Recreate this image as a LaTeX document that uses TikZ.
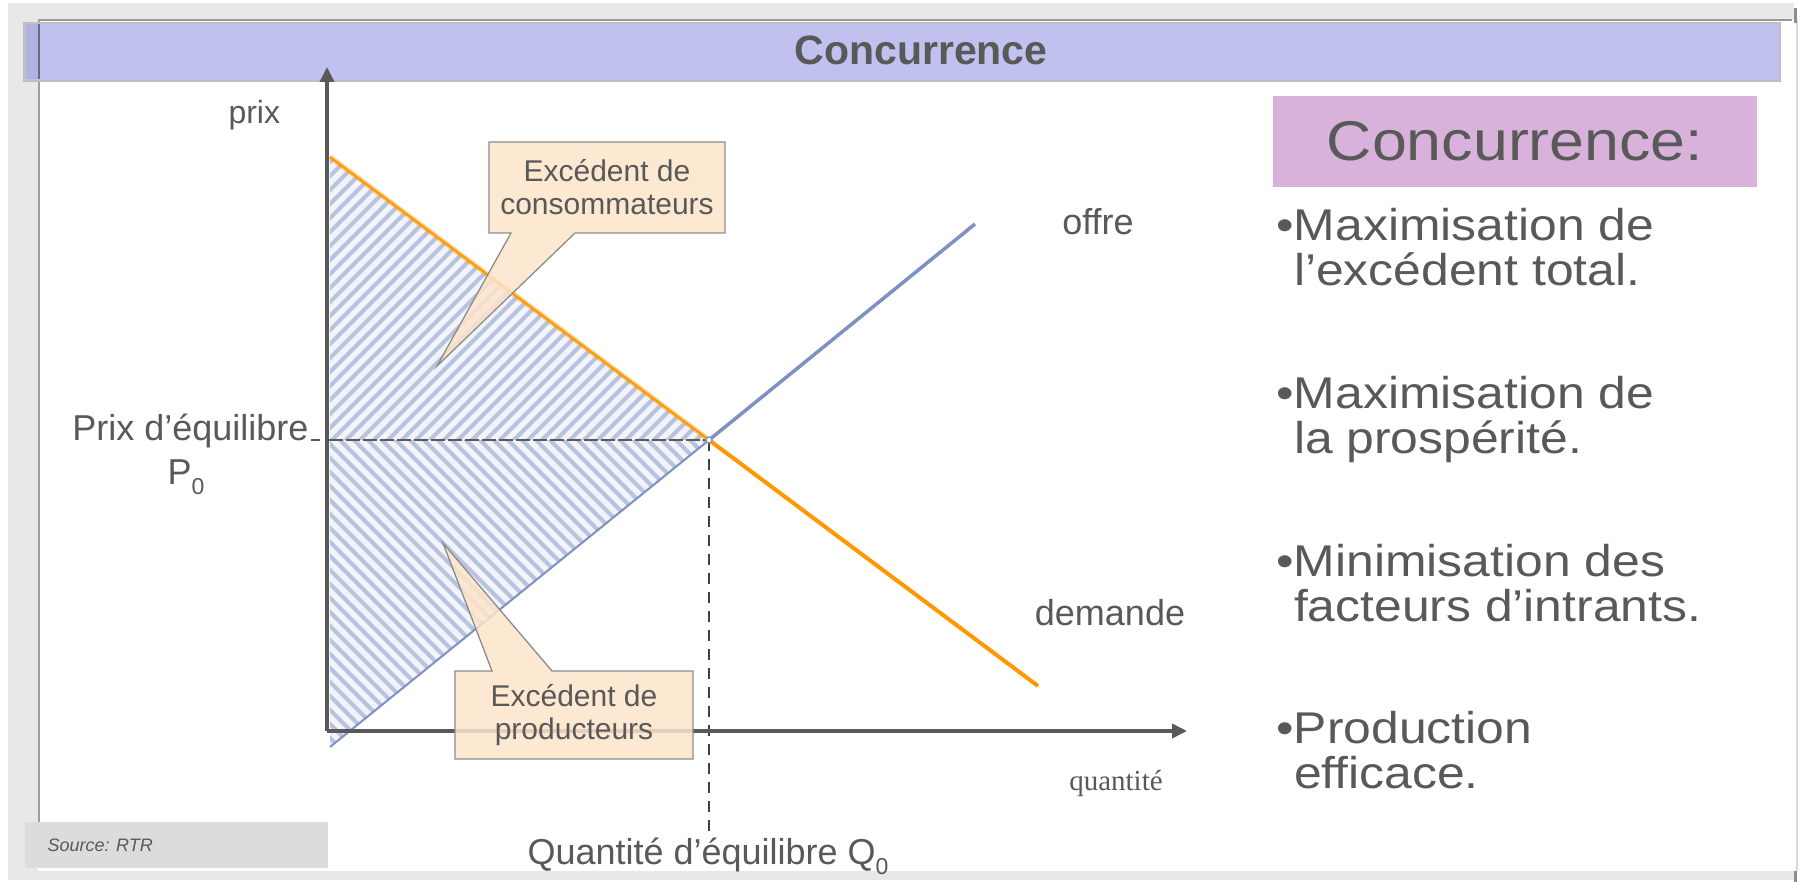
\documentclass[tikz,border=0pt]{standalone}
\usepackage{fontspec}
\setmainfont{Liberation Sans}
\newfontfamily\timesf{Liberation Serif}
\newfontfamily\widesans[FakeStretch=1.12]{Liberation Sans}
\usetikzlibrary{arrows.meta}
\definecolor{txt}{HTML}{595959}
\definecolor{frameg}{HTML}{E8E8E8}
\definecolor{titlebg}{HTML}{C1C1EF}
\definecolor{titleleft}{HTML}{B2B2E0}
\definecolor{pinkbg}{HTML}{D9B2DB}
\definecolor{peach}{HTML}{FDE4CB}
\definecolor{supplyc}{HTML}{7F90C4}
\definecolor{demandc}{HTML}{FF9900}
\definecolor{hatchbg}{HTML}{F2F4F9}
\definecolor{hatchln}{HTML}{B8C3DF}
\definecolor{srcbg}{HTML}{DCDCDC}
\newcommand{\fsz}[2]{\fontsize{#1pt}{#2pt}\selectfont}
\tikzset{
  axisline/.style={draw=txt, line width=3.5pt, -{Triangle[length=15pt,width=14pt]}},
  callout/.style={fill=peach, fill opacity=0.85, draw=black!45, line width=1.3pt, line join=miter},
  callouttext/.style={text=txt, font=\fsz{30}{33}, align=center},
  label/.style={text=txt, font=\fsz{36}{40}},
  bullet/.style={text=txt, font=\widesans\fsz{44.5}{45}, align=left, anchor=base west},
  hatch/.style={draw=hatchln, line width=4pt},
}
\begin{document}
\begin{tikzpicture}[x=1pt,y=-1pt]
\useasboundingbox (0,0) rectangle (1803,882);
% frame
\fill[white] (0,0) rectangle (1803,882);
\fill[frameg] (8,3) rectangle (1794,880);
\fill[white] (38,20) rectangle (1797,871);
\draw[black!40, line width=2pt] (38,20) -- (1792,20);
\draw[black!38, line width=2pt] (39,20) -- (39,822);
\draw[black!15, line width=1.5pt] (1797,20) -- (1797,871);
\fill[black!45] (1794,8) rectangle (1797,23);
\fill[black!45] (1794,871) rectangle (1797,882);
% title bar
\draw[fill=titlebg, draw=black!25, line width=2.5pt] (24,23) rectangle (1780,81);
\fill[titleleft] (25.5,24.5) rectangle (38,79.5);
\draw[black!45!titlebg, line width=1.5pt] (39,24.5) -- (39,79.5);
\node[anchor=base, text=txt, font=\bfseries\fsz{41}{46}] (title) at (921,65) {Concurrence};
% key points
\coordinate (O) at (327,731);
\coordinate (Ytip) at (327,67);
\coordinate (Xtip) at (1187,731);
\coordinate (D1) at (330,157);
\coordinate (D2) at (1038,686);
\coordinate (S1) at (330,747);
\coordinate (S2) at (975,224);
\coordinate (E) at (709,440);
\coordinate (Pax) at (329,440);
\coordinate (Qend) at (709,836);
% consumer surplus hatch
\begin{scope}
\clip (D1) -- (330,440) -- (E) -- cycle;
\fill[hatchbg] (300,100) rectangle (760,800);
\foreach \c in {-336,-322,...,380} \draw[hatch] (\c,800) -- ++(800,-800);
\end{scope}
% producer surplus hatch
\begin{scope}
\clip (330,440) -- (E) -- (S1) -- cycle;
\fill[hatchbg] (300,400) rectangle (760,800);
\foreach \c in {-436,-422,...,300} \draw[hatch] (\c,0) -- ++(900,900);
\end{scope}
% dashed guides
\draw[txt, line width=2.5pt, dash pattern=on 14pt off 3pt] (Pax) -- (E);
\draw[black!75, line width=2pt, dash pattern=on 11pt off 8pt] (E) -- (Qend);
% supply and demand
\draw[supplyc, line width=2pt] (S1) -- (E);
\draw[supplyc, line width=3.5pt] (E) -- (S2);
\draw[demandc, line width=5pt, opacity=0.45] (D1) -- (E);
\draw[demandc, line width=2pt] (D1) -- (E);
\draw[demandc, line width=4pt] (E) -- (D2);
\draw[supplyc, fill=white, line width=1.2pt] (E) circle (3pt);
% axes
\draw[axisline] (O) -- (Ytip);
\draw[axisline] (O) -- (Xtip);
\draw[txt, line width=2pt] (311,440) -- (320,440);
% callouts
\filldraw[callout] (489,142) -- (725,142) -- (725,233) -- (575,233) -- (437,366) -- (511,233) -- (489,233) -- cycle;
\node[callouttext] (cons) at (607,187) {Excédent de\\consommateurs};
\filldraw[callout] (455,671) -- (492,671) -- (443,543) -- (552,671) -- (693,671) -- (693,759) -- (455,759) -- cycle;
\node[callouttext] (prod) at (574,715) {Excédent de\\producteurs};
% axis labels
\node[text=txt, font=\fsz{32}{36}, anchor=base west] (prix) at (225,124) {prix};
\node[label, anchor=base] (offre) at (1098,235) {offre};
\node[label, anchor=base] (demande) at (1110,625) {demande};
\node[text=txt, font=\timesf\fsz{29}{33}, anchor=base] (quant) at (1116,790) {quantité};
\node[text=txt, font=\fsz{36}{40}, anchor=base east] (peq) at (312,440) {Prix d’équilibre};
\node[text=txt, font=\fsz{36}{40}, anchor=base] (p0) at (186,484) {P\raisebox{-0.28em}{\fsz{23}{26}0}};
\node[text=txt, font=\fsz{36}{40}, anchor=base west] (qeq) at (524,864) {Quantité d’équilibre Q\raisebox{-0.28em}{\fsz{23}{26}0}};
% source
\fill[srcbg] (25,822) rectangle (328,868);
\node[text=txt, font=\itshape\fsz{18}{22}, anchor=base west] (src) at (44,851) {Source: RTR};
% right panel
\fill[pinkbg] (1273,96) rectangle (1757,187);
\node[text=txt, font=\widesans\fsz{56}{62}, anchor=base] (head) at (1515,161) {Concurrence:};
\node[bullet] (b1) at (1273,286) {•Maximisation de\\\phantom{•}l’excédent total.};
\node[bullet] (b2) at (1273,453) {•Maximisation de\\\phantom{•}la prospérité.};
\node[bullet] (b3) at (1273,621) {•Minimisation des\\\phantom{•}facteurs d’intrants.};
\node[bullet] (b4) at (1273,788) {•Production\\\phantom{•}efficace.};
\end{tikzpicture}
\end{document}
